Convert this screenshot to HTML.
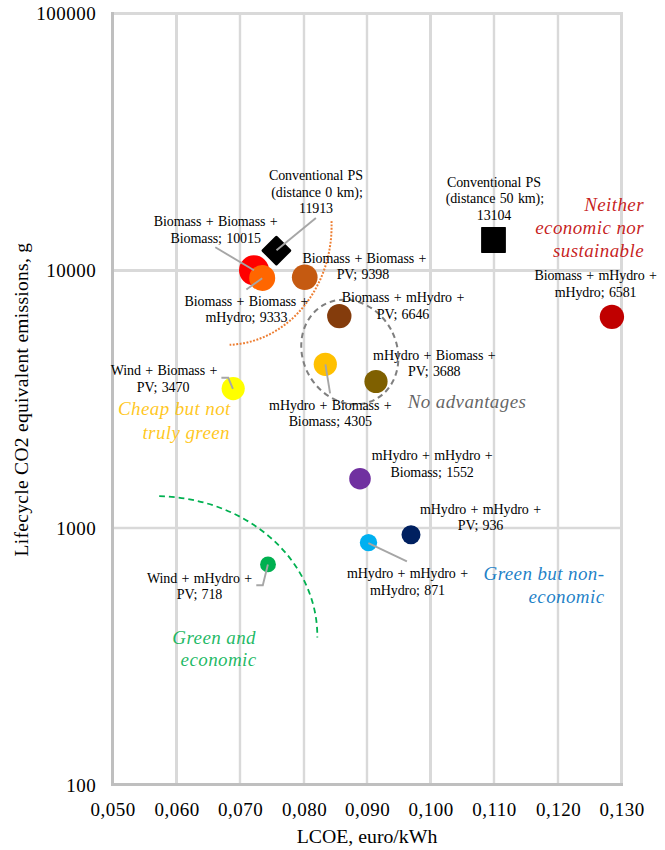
<!DOCTYPE html>
<html><head><meta charset="utf-8">
<style>
html,body{margin:0;padding:0;background:#fff;}
svg{display:block;}
text{font-family:"Liberation Serif",serif;}
.t{font-size:19px;letter-spacing:0.5px;fill:#000;}
.l{font-size:14px;letter-spacing:-0.1px;word-spacing:1px;fill:#000;text-anchor:middle;}
.a{font-size:19px;letter-spacing:0.4px;font-style:italic;text-anchor:end;fill-opacity:0.88;}
</style></head>
<body>
<svg width="665" height="850" viewBox="0 0 665 850">
<!-- gridlines -->
<g stroke="#d9d9d9" fill="none">
<line x1="112" y1="13.5" x2="623" y2="13.5" stroke-width="3"/>
<line x1="112" y1="270.5" x2="623" y2="270.5" stroke-width="3"/>
<line x1="112" y1="528" x2="623" y2="528" stroke-width="2.4"/>
<line x1="176.5" y1="12" x2="176.5" y2="784" stroke-width="3"/>
<line x1="240" y1="12" x2="240" y2="784" stroke-width="2.4"/>
<line x1="304" y1="12" x2="304" y2="784" stroke-width="2.4"/>
<line x1="367" y1="12" x2="367" y2="784" stroke-width="2.4"/>
<line x1="430.5" y1="12" x2="430.5" y2="784" stroke-width="3"/>
<line x1="494" y1="12" x2="494" y2="784" stroke-width="2.4"/>
<line x1="558" y1="12" x2="558" y2="784" stroke-width="2.4"/>
<line x1="621.5" y1="12" x2="621.5" y2="784" stroke-width="3"/>
</g>
<!-- axes -->
<g stroke="#bfbfbf" stroke-width="3" fill="none">
<line x1="112.5" y1="12" x2="112.5" y2="786"/>
<line x1="111" y1="784.5" x2="623" y2="784.5"/>
</g>
<!-- y tick labels -->
<g class="t" text-anchor="end">
<text x="96.3" y="19.7">100000</text>
<text x="96.3" y="277">10000</text>
<text x="96.3" y="535">1000</text>
<text x="96.3" y="791.8">100</text>
</g>
<!-- x tick labels -->
<g class="t" text-anchor="middle">
<text x="113" y="815.8">0,050</text>
<text x="177" y="815.8">0,060</text>
<text x="240.5" y="815.8">0,070</text>
<text x="304.5" y="815.8">0,080</text>
<text x="367.5" y="815.8">0,090</text>
<text x="431" y="815.8">0,100</text>
<text x="494.5" y="815.8">0,110</text>
<text x="558.5" y="815.8">0,120</text>
<text x="622" y="815.8">0,130</text>
</g>
<!-- axis titles -->
<text x="367" y="843.3" text-anchor="middle" style="font-size:19.8px">LCOE, euro/kWh</text>
<text x="0" y="0" text-anchor="middle" style="font-size:19.5px;letter-spacing:0.3px" transform="translate(27.9,399.5) rotate(-90)">Lifecycle CO2 equivalent emissions, g</text>

<!-- annotation shapes -->
<path d="M331.5,221.1 A105.4,119 0 0 1 229.6,344.8" stroke="#ed7d31" stroke-width="2" fill="none" stroke-dasharray="1.9 1.55"/>
<ellipse cx="349.8" cy="352" rx="46.9" ry="53.85" transform="rotate(-28.45 349.8 352)" stroke="#7f7f7f" stroke-width="2" fill="none" stroke-dasharray="5.6 4" stroke-dashoffset="-3.5"/>
<path d="M159.2,496.2 A161.8,139.8 0 0 1 317.3,637.6" stroke="#00b050" stroke-width="1.8" fill="none" stroke-dasharray="5.8 3.95"/>

<!-- markers -->
<circle cx="254" cy="270.3" r="15" fill="#ff0000"/>
<circle cx="262.2" cy="278" r="13" fill="#ff6600"/>
<circle cx="304.75" cy="277.25" r="12.85" fill="#c55a11"/>
<rect x="265.5" y="239.7" width="21.8" height="21.8" rx="1.5" fill="#000" transform="rotate(45 276.4 250.6)"/>
<rect x="481.1" y="226.9" width="24.8" height="26" rx="0.6" fill="#000"/>
<circle cx="611.9" cy="316.85" r="12.2" fill="#c00000"/>
<circle cx="339.3" cy="316.1" r="12.2" fill="#843c0c"/>
<circle cx="325.3" cy="364.3" r="11.6" fill="#ffc000"/>
<circle cx="376" cy="381.5" r="11.6" fill="#7f6000"/>
<circle cx="233.2" cy="388.6" r="11.6" fill="#ffff00"/>
<circle cx="360" cy="478.7" r="10.8" fill="#7030a0"/>
<circle cx="411" cy="534.7" r="9.5" fill="#002060"/>
<circle cx="368.5" cy="542.6" r="8.7" fill="#00b0f0"/>
<circle cx="268" cy="564.4" r="7.9" fill="#00b050"/>

<!-- leader lines -->
<g stroke="#a6a6a6" stroke-width="1.9" fill="none">
<line x1="215.3" y1="247.3" x2="254" y2="270.3"/>
<line x1="315.9" y1="218.1" x2="276.5" y2="250.3"/>
<line x1="262.2" y1="278.2" x2="246.4" y2="289.5"/>
<line x1="325.4" y1="364.3" x2="330.1" y2="393.4"/>
<polyline points="221.4,377.7 228.2,377.7 232.9,388.8"/>
<line x1="368.4" y1="543.2" x2="406.9" y2="561.4"/>
<polyline points="256.3,585.2 262.8,585.2 267.9,564.5"/>
</g>

<!-- data labels -->
<g class="l">
<text x="316" y="179.5">Conventional PS</text>
<text x="317" y="196.9">(distance 0 km);</text>
<text x="316" y="212.5">11913</text>

<text x="215.7" y="225.6">Biomass + Biomass +</text>
<text x="215.7" y="243.1">Biomass; 10015</text>

<text x="246.5" y="305.8">Biomass + Biomass +</text>
<text x="246.5" y="321.8">mHydro; 9333</text>

<text x="364.4" y="262.6">Biomass + Biomass +</text>
<text x="362.9" y="278.6">PV; 9398</text>

<text x="494" y="186.5">Conventional PS</text>
<text x="494.8" y="202.5">(distance 50 km);</text>
<text x="494" y="219.9">13104</text>

<text x="595.6" y="280.4">Biomass + mHydro +</text>
<text x="595.6" y="296.8">mHydro; 6581</text>

<text x="403" y="302.2">Biomass + mHydro +</text>
<text x="403" y="318.9">PV; 6646</text>

<text x="434.3" y="359.5">mHydro + Biomass +</text>
<text x="434.3" y="375.7">PV; 3688</text>

<text x="330.3" y="410.2">mHydro + Biomass +</text>
<text x="330.3" y="426.2">Biomass; 4305</text>

<text x="164" y="374.6">Wind + Biomass +</text>
<text x="163.1" y="391.8">PV; 3470</text>

<text x="432.1" y="460">mHydro + mHydro +</text>
<text x="432.1" y="477.4">Biomass; 1552</text>

<text x="480.5" y="513.6">mHydro + mHydro +</text>
<text x="480.5" y="530">PV; 936</text>

<text x="407.5" y="577.5">mHydro + mHydro +</text>
<text x="407.5" y="595">mHydro; 871</text>

<text x="199.5" y="582.6">Wind + mHydro +</text>
<text x="199.5" y="598.6">PV; 718</text>
</g>

<!-- annotations -->
<g class="a">
<text x="644" y="211" fill="#c00000">Neither</text>
<text x="644" y="233.9" fill="#c00000">economic nor</text>
<text x="644" y="257.2" fill="#c00000">sustainable</text>
<text x="230.8" y="415.4" fill="#ffc000">Cheap but not</text>
<text x="230" y="438.5" fill="#ffc000">truly green</text>
<text x="526.3" y="408.1" fill="#505050">No advantages</text>
<text x="604.5" y="579.5" fill="#0070c0">Green but non-</text>
<text x="604.5" y="602.8" fill="#0070c0">economic</text>
<text x="256" y="643.6" fill="#00b050">Green and</text>
<text x="256.6" y="666.3" fill="#00b050">economic</text>
</g>
</svg>
</body></html>
